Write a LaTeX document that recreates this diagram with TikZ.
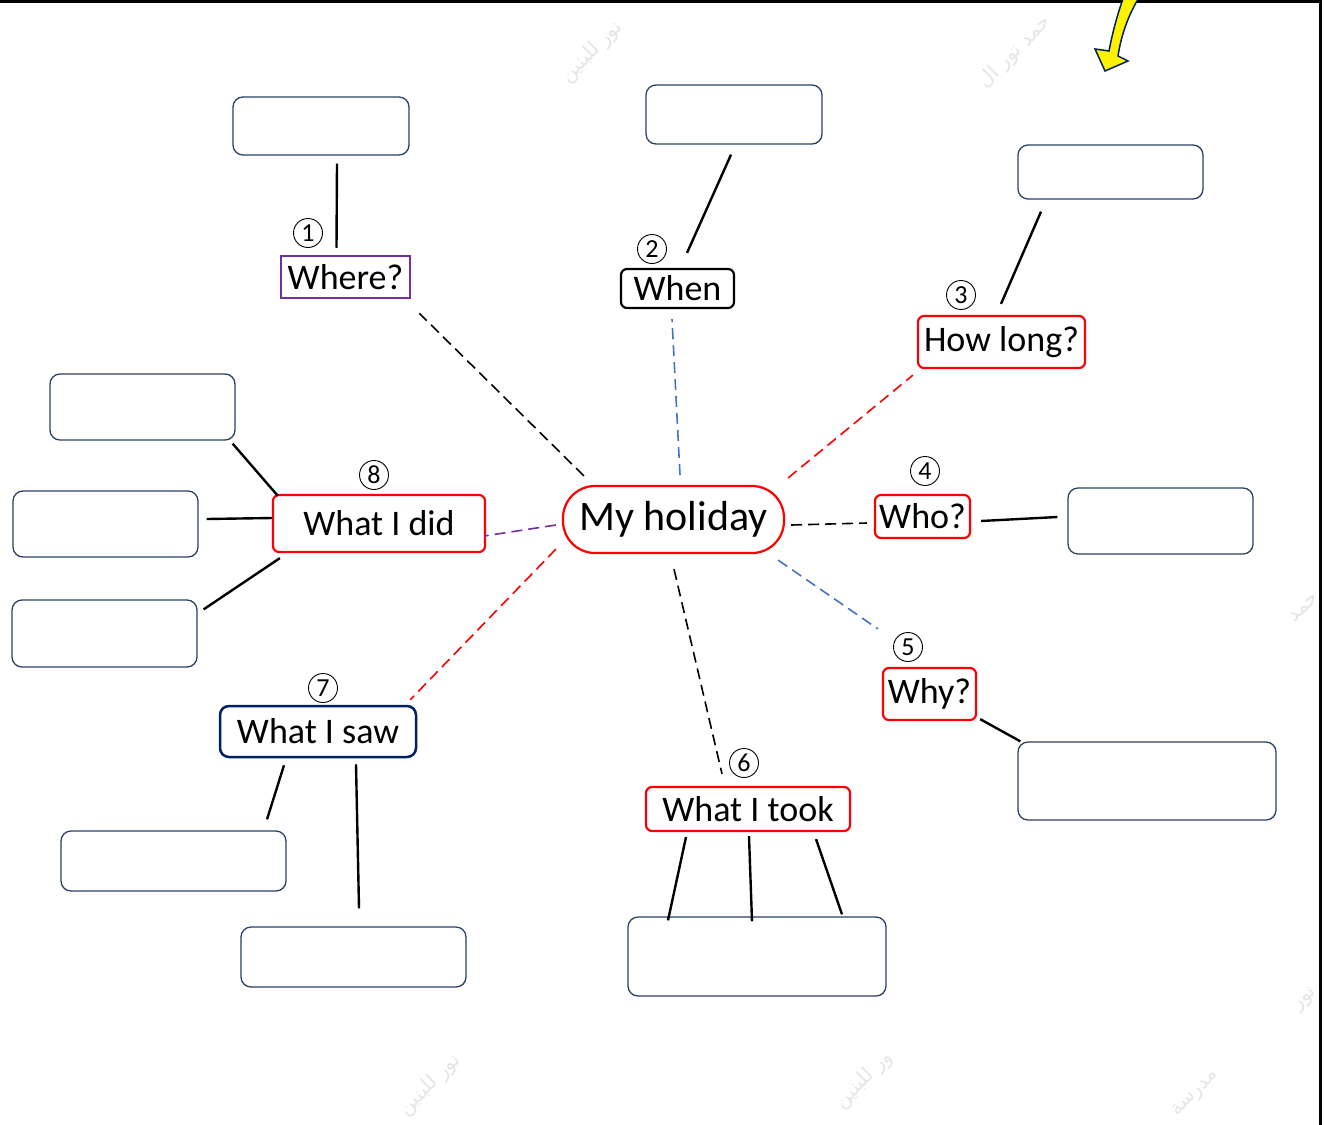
\documentclass[tikz,border=0pt]{standalone}
\usepackage{fontspec}
\setmainfont{Carlito}
\newfontfamily\arabicfont[Script=Arabic]{DejaVu Sans}
\TeXXeTstate=1
\usetikzlibrary{positioning}
\definecolor{hred}{HTML}{FF0000}
\definecolor{hblue}{HTML}{4472C4}
\definecolor{hpurple}{HTML}{7030A0}
\definecolor{hnavy}{HTML}{002060}
\definecolor{boxblue}{HTML}{2A3F66}

\begin{document}
\begin{tikzpicture}
  [x=1pt, y=-1pt,
   lab/.style={draw, line width=2.2pt, rounded corners=6pt, inner sep=0pt,
     font=\fontsize{36}{40}\selectfont},
   redlab/.style={lab, draw=hred},
   blank/.style={draw=boxblue, line width=1.3pt, rounded corners=10pt, inner sep=0pt},
   num/.style={draw, circle, line width=0.9pt, minimum size=29pt, inner sep=0pt,
     font=\fontsize{26}{26}\selectfont},
   link/.style={line width=2.4pt},
   spoke/.style={line width=1.6pt, dash pattern=on 11pt off 6pt},
   wmark/.style={text=black!10, rotate=45, font=\arabicfont\fontsize{20}{20}\selectfont}]

  \useasboundingbox (0,0) rectangle (1324,1124);

  \node[wmark] (wm1) at (592,52) {\beginR نور للبنين\endR};
  \node[wmark] (wm2) at (1015,52) {\beginR حمد نور ال\endR};
  \node[wmark] (wm3) at (430,1085) {\beginR نور للبنين\endR};
  \node[wmark] (wm4) at (864,1080) {\beginR ور للبنين\endR};
  \node[wmark] (wm5) at (1196,1094) {\beginR مدرسة\endR};
  \node[wmark] (wm6) at (1304,608) {\beginR حمد\endR};
  \node[wmark] (wm7) at (1306,1000) {\beginR نور\endR};

  \draw[line width=3pt] (0,2) -- (1320,2) -- (1320,1126);
  \draw[fill=yellow, draw=hnavy, line width=1.5pt]
    (1124,-4) .. controls (1117,15) and (1112,35) .. (1109,51) -- (1095,49)
    -- (1105,71) -- (1128,61) -- (1118,56)
    .. controls (1121,36) and (1128,15) .. (1140,-4) -- cycle;

  \node[lab, draw=hpurple, line width=2.5pt, rounded corners=0pt,
    minimum width=129pt, minimum height=42pt] (where) at (345.5,277) {Where?};
  \node[lab, minimum width=113pt, minimum height=39pt] (when) at (677.5,288.5) {When};
  \node[redlab, minimum width=167pt, minimum height=52pt] (howlong) at (1001.5,342) {How long?};
  \node[redlab, minimum width=95pt, minimum height=43pt] (who) at (922.5,516.5) {Who?};
  \node[redlab, minimum width=93pt, minimum height=52pt] (why) at (929.5,694) {Why?};
  \node[redlab, minimum width=204pt, minimum height=44pt] (took) at (748,809) {What I took};
  \node[lab, draw=hnavy, line width=2.5pt, rounded corners=9pt,
    minimum width=196pt, minimum height=51pt] (saw) at (318,731.5) {What I saw};
  \node[redlab, minimum width=212pt, minimum height=57pt] (did) at (379,523.5) {What I did};
  \node[redlab, rounded corners=32pt, font=\fontsize{42}{46}\selectfont,
    minimum width=221pt, minimum height=67pt] (hol) at (673.5,519.5) {My holiday};

  \node[num] (n1) at (308,233) {1};
  \node[num] (n2) at (652,249) {2};
  \node[num] (n3) at (961,295) {3};
  \node[num] (n4) at (925,471) {4};
  \node[num] (n5) at (908,647) {5};
  \node[num] (n6) at (744,763) {6};
  \node[num] (n7) at (323,688) {7};
  \node[num] (n8) at (374,475) {8};

  \node[blank, minimum width=176pt, minimum height=58pt] (wherebox) at (321,126) {};
  \node[blank, minimum width=176pt, minimum height=59pt] (whenbox) at (734,114.5) {};
  \node[blank, minimum width=185pt, minimum height=54pt] (longbox) at (1110.5,172) {};
  \node[blank, minimum width=185pt, minimum height=66pt] (whobox) at (1160.5,521) {};
  \node[blank, minimum width=258pt, minimum height=78pt] (whybox) at (1147,781) {};
  \node[blank, minimum width=258pt, minimum height=79pt] (tookbox) at (757,956.5) {};
  \node[blank, minimum width=225pt, minimum height=60pt] (sawbox1) at (173.5,861) {};
  \node[blank, minimum width=225pt, minimum height=60pt] (sawbox2) at (353.5,957) {};
  \node[blank, minimum width=185pt, minimum height=66pt] (didbox1) at (142.5,407) {};
  \node[blank, minimum width=185pt, minimum height=66pt] (didbox2) at (105.5,524) {};
  \node[blank, minimum width=185pt, minimum height=67pt] (didbox3) at (104.5,633.5) {};

  \draw[link] ([shift={(16,8)}]wherebox.south) -- ([shift={(-9,-7)}]where.north);
  \draw[link] ([shift={(-3,10)}]whenbox.south) -- ([shift={(9.5,-15)}]when.north);
  \draw[link] ([shift={(-69.5,12)}]longbox.south) -- ([shift={(-0.5,-11)}]howlong.north);
  \draw[link] ([shift={(10,4.5)}]who.east) -- ([shift={(-10,-4)}]whobox.west);
  \draw[link] ([shift={(3,-2)}]why.south east) -- ([shift={(3,0)}]whybox.north west);
  \draw[link] ([shift={(-62,5)}]took.south) -- ([shift={(-89,4)}]tookbox.north);
  \draw[link] ([shift={(1,4)}]took.south) -- ([shift={(-5,5)}]tookbox.north);
  \draw[link] ([shift={(68,7)}]took.south) -- ([shift={(85,-2)}]tookbox.north);
  \draw[link] ([shift={(-34,7)}]saw.south) -- ([shift={(93.5,-11)}]sawbox1.north);
  \draw[link] ([shift={(38,6)}]saw.south) -- ([shift={(5.5,-18)}]sawbox2.north);
  \draw[link] ([shift={(-3,3)}]didbox1.south east) -- ([shift={(6,2)}]did.north west);
  \draw[link] ([shift={(8,-5)}]didbox2.east) -- ([shift={(0,-5.5)}]did.west);
  \draw[link] ([shift={(6,10)}]didbox3.north east) -- ([shift={(8,5)}]did.south west);

  \draw[spoke] ([shift={(22,-9)}]hol.north west) -- ([shift={(8,14)}]where.south east);
  \draw[spoke, hblue] ([shift={(6.5,-10)}]hol.north) -- ([shift={(-5.5,10)}]when.south);
  \draw[spoke, hred] ([shift={(3,-7)}]hol.north east) -- ([shift={(-4,6)}]howlong.south west);
  \draw[spoke] ([shift={(6,5.5)}]hol.east) -- ([shift={(-7,6.5)}]who.west);
  \draw[spoke, hblue] ([shift={(-7,6)}]hol.south east) -- ([shift={(-4,-38)}]why.north west);
  \draw[spoke] ([shift={(0.5,15)}]hol.south) -- ([shift={(-26,-12)}]took.north);
  \draw[spoke, hred] ([shift={(-6,-5)}]hol.south west) -- ([shift={(-7,-5)}]saw.north east);
  \draw[spoke, hpurple] ([shift={(-6,5.5)}]hol.west) -- ([shift={(-2,12.5)}]did.east);
\end{tikzpicture}
\end{document}
